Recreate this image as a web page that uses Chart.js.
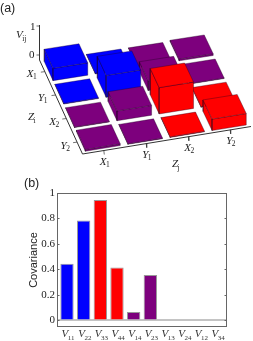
<!DOCTYPE html>
<html lang="en">
<head>
    <meta charset="UTF-8">
    <script src="https://cdn.jsdelivr.net/npm/chart.js"></script>
    <title>Covariance matrix</title>
    <style>
        html, body { margin: 0; padding: 0; background: #fff; }
        body { width: 253px; height: 341px; position: relative; overflow: hidden; }
        canvas { position: absolute; left: 0; }
        #matrixChart { top: 0; }
        #barChart { top: 175px; }
    </style>
</head>
<body>
    <canvas id="matrixChart" width="253" height="175"></canvas>
    <canvas id="barChart" width="253" height="166"></canvas>
<script>
    // matrix values, rows back to front, columns left to right
    const matrixLabels = [['X', '1'], ['Y', '1'], ['X', '2'], ['Y', '2']];
    const rowX1 = [0.44, 0.02, 0.02, 0.06];
    const rowY1 = [0.02, 0.78, 0.35, 0.02];
    const rowX2 = [0.02, 0.35, 0.94, 0.02];
    const rowY2 = [0.06, 0.02, 0.02, 0.41];
    const matrixRows = [rowX1, rowY1, rowX2, rowY2];

    // bar chart
    const barNames = ['11', '22', '33', '44', '14', '23', '13', '24', '12', '34'];
    const barValues = [0.445, 0.785, 0.945, 0.416, 0.065, 0.356, 0, 0, 0, 0];
    const yTickValues = [0, 0.2, 0.4, 0.6, 0.8, 1];

    const BLUE = '#0000ff', RED = '#ff0000', PURPLE = '#7d007d';
    const EDGE = 'rgba(30,0,30,0.7)';
    const SERIF = '"Liberation Serif", serif';
    const SANS = '"Liberation Sans", sans-serif';

    function cellColor(r, c) {
        if (r < 2 && c < 2) return BLUE;
        if (r >= 2 && c >= 2) return RED;
        return PURPLE;
    }

    // floor corners of the 3D box on the picture, and the homography from them
    const floor = {bl: [39.5, 60], fl: [82.5, 154], fr: [251, 126.5], br: [207, 34]};
    const Z_UNIT = 28;
    const BAR_INSET = 0.09;

    function makeHomography() {
        const [x0, y0] = floor.bl, [x1, y1] = floor.br, [x2, y2] = floor.fr, [x3, y3] = floor.fl;
        const dx1 = x1 - x2, dx2 = x3 - x2, sx = x0 - x1 + x2 - x3;
        const dy1 = y1 - y2, dy2 = y3 - y2, sy = y0 - y1 + y2 - y3;
        const det = dx1 * dy2 - dx2 * dy1;
        const g = (sx * dy2 - dx2 * sy) / det;
        const h = (dx1 * sy - sx * dy1) / det;
        return {a: x1 - x0 + g * x1, b: x3 - x0 + h * x3, c: x0, d: y1 - y0 + g * y1, e: y3 - y0 + h * y3, f: y0, g, h};
    }
    const H = makeHomography();

    // col, row in 0..4, z in covariance units
    function project(col, row, z) {
        const u = col / 4, v = row / 4;
        const w = H.g * u + H.h * v + 1;
        return {
            x: (H.a * u + H.b * v + H.c) / w,
            y: (H.d * u + H.e * v + H.f) / w - (z || 0) * Z_UNIT
        };
    }

    function polygon(points, color) {
        return {
            data: [...points, points[0]],
            showLine: true,
            fill: 'shape',
            backgroundColor: color,
            borderColor: EDGE,
            borderWidth: 0.5,
            pointRadius: 0,
            tension: 0
        };
    }

    function line(points, width) {
        return {
            data: points,
            showLine: true,
            fill: false,
            borderColor: '#333',
            borderWidth: width,
            pointRadius: 0,
            tension: 0
        };
    }

    function buildFaces() {
        const faces = [];
        matrixRows.forEach((values, r) => {
            for (let c = 3; c >= 0; c--) {
                const l = c + BAR_INSET, rr = c + 1 - BAR_INSET;
                const b = r + BAR_INSET, f = r + 1 - BAR_INSET;
                const z = values[c], color = cellColor(r, c);
                faces.push(polygon([project(l, b, 0), project(l, f, 0), project(l, f, z), project(l, b, z)], color));
                faces.push(polygon([project(l, f, 0), project(rr, f, 0), project(rr, f, z), project(l, f, z)], color));
                faces.push(polygon([project(l, b, z), project(rr, b, z), project(rr, f, z), project(l, f, z)], color));
            }
        });
        return faces;
    }

    function buildAxes() {
        const sets = [
            line([project(0, 0, 0), project(0, 4, 0), project(4, 4, 0)], 1),
            line([{x: floor.bl[0], y: floor.bl[1]}, {x: floor.bl[0], y: 25}], 1),
            line([{x: floor.bl[0], y: 26}, {x: floor.bl[0] - 3, y: 26}], 0.7),
            line([{x: floor.bl[0], y: 55}, {x: floor.bl[0] - 3, y: 55}], 0.7)
        ];
        for (let i = 0; i < 4; i++) {
            const left = project(0, i + 0.5, 0), bottom = project(i + 0.5, 4, 0);
            sets.push(line([left, {x: left.x - 4, y: left.y + 0.5}], 0.7));
            sets.push(line([bottom, {x: bottom.x + 0.5, y: bottom.y + 4}], 0.7));
        }
        return sets;
    }

    function subText(ctx, main, sub, x, y, size, subSize) {
        ctx.textBaseline = 'alphabetic';
        ctx.textAlign = 'left';
        ctx.font = `italic ${size}px ${SERIF}`;
        const w = ctx.measureText(main).width;
        ctx.fillText(main, x, y);
        ctx.font = `${subSize}px ${SERIF}`;
        ctx.fillText(sub, x + w - 0.5, y + 2.5);
    }

    const matrixText = {
        id: 'matrixText',
        afterDraw(chart) {
            const ctx = chart.ctx;
            ctx.save();
            ctx.fillStyle = '#222';
            ctx.font = `12.5px ${SANS}`;
            ctx.textBaseline = 'alphabetic';
            ctx.fillText('(a)', 0, 12);
            ctx.font = `11px ${SERIF}`;
            ctx.fillText('1', 30, 30);
            ctx.fillText('0', 29, 58);
            subText(ctx, 'V', 'ij', 16, 38, 11, 7.5);
            matrixLabels.forEach((lab, i) => {
                const left = project(0, i + 0.5, 0), bottom = project(i + 0.5, 4, 0);
                subText(ctx, lab[0], lab[1], left.x - 18 + i * 0.5, left.y + 5 + i * 0.5, 11, 7.5);
                subText(ctx, lab[0], lab[1], bottom.x - 4, bottom.y + 14, 11, 7.5);
            });
            subText(ctx, 'Z', 'i', 28, 120, 11, 7.5);
            subText(ctx, 'Z', 'j', 172, 167, 11, 7.5);
            ctx.restore();
        }
    };

    new Chart(document.getElementById('matrixChart'), {
        type: 'scatter',
        data: {datasets: [...buildFaces(), ...buildAxes()].reverse()},
        options: {
            responsive: false,
            animation: false,
            layout: {padding: 0},
            plugins: {legend: {display: false}, tooltip: {enabled: false}},
            scales: {
                x: {type: 'linear', display: false, min: 0, max: 253},
                y: {type: 'linear', display: false, min: 0, max: 175, reverse: true}
            }
        },
        plugins: [matrixText]
    });

    const barFrame = {
        id: 'barFrame',
        afterDraw(chart) {
            const ctx = chart.ctx, area = chart.chartArea, x = chart.scales.x, y = chart.scales.y;
            ctx.save();
            ctx.strokeStyle = '#666';
            ctx.lineWidth = 1;
            ctx.strokeRect(area.left + 0.5, area.top + 0.5, area.right - area.left - 1, area.bottom - area.top - 1);
            yTickValues.forEach(v => {
                const py = Math.round(y.getPixelForValue(v)) + 0.5;
                ctx.beginPath();
                ctx.moveTo(area.left, py);
                ctx.lineTo(area.left + 2.5, py);
                ctx.moveTo(area.right, py);
                ctx.lineTo(area.right - 2.5, py);
                ctx.stroke();
            });
            ctx.fillStyle = '#333';
            barNames.forEach((name, i) => {
                subText(ctx, 'V', name, x.getPixelForValue(i) - 5.5, area.bottom + 10, 11, 7);
            });
            ctx.font = `12.5px ${SANS}`;
            ctx.fillStyle = '#222';
            ctx.textAlign = 'left';
            ctx.fillText('(b)', 24, 12);
            ctx.restore();
        }
    };

    new Chart(document.getElementById('barChart'), {
        type: 'bar',
        data: {
            datasets: [{
                data: barValues.map((y, i) => ({x: i, y})),
                backgroundColor: [BLUE, BLUE, RED, RED, PURPLE, PURPLE, PURPLE, PURPLE, PURPLE, PURPLE],
                borderColor: '#999',
                borderWidth: 1,
                barPercentage: 0.8,
                categoryPercentage: 1
            }]
        },
        options: {
            responsive: false,
            animation: false,
            layout: {padding: {left: 27, right: 26, top: 18, bottom: 0}},
            plugins: {legend: {display: false}, tooltip: {enabled: false}},
            scales: {
                x: {
                    type: 'linear',
                    offset: false,
                    min: -0.6,
                    max: 9.6,
                    grid: {display: false},
                    border: {display: false},
                    ticks: {display: false},
                    afterFit(scale) { scale.height = 14; }
                },
                y: {
                    min: -0.052,
                    max: 1,
                    afterBuildTicks(scale) { scale.ticks = yTickValues.map(value => ({value})); },
                    afterFit(scale) { scale.width = 30; },
                    border: {display: false},
                    grid: {
                        drawTicks: false,
                        lineWidth: ctx => ctx.tick && ctx.tick.value === 0 ? 2 : 0,
                        color: '#c4c4c4'
                    },
                    ticks: {
                        color: '#222',
                        padding: 2,
                        font: {family: SERIF, size: 11},
                        callback: v => String(v)
                    },
                    title: {
                        display: true,
                        text: 'Covariance',
                        color: '#222',
                        font: {family: SANS, size: 11},
                        padding: 0
                    }
                }
            }
        },
        plugins: [barFrame]
    });
</script>
</body>
</html>
